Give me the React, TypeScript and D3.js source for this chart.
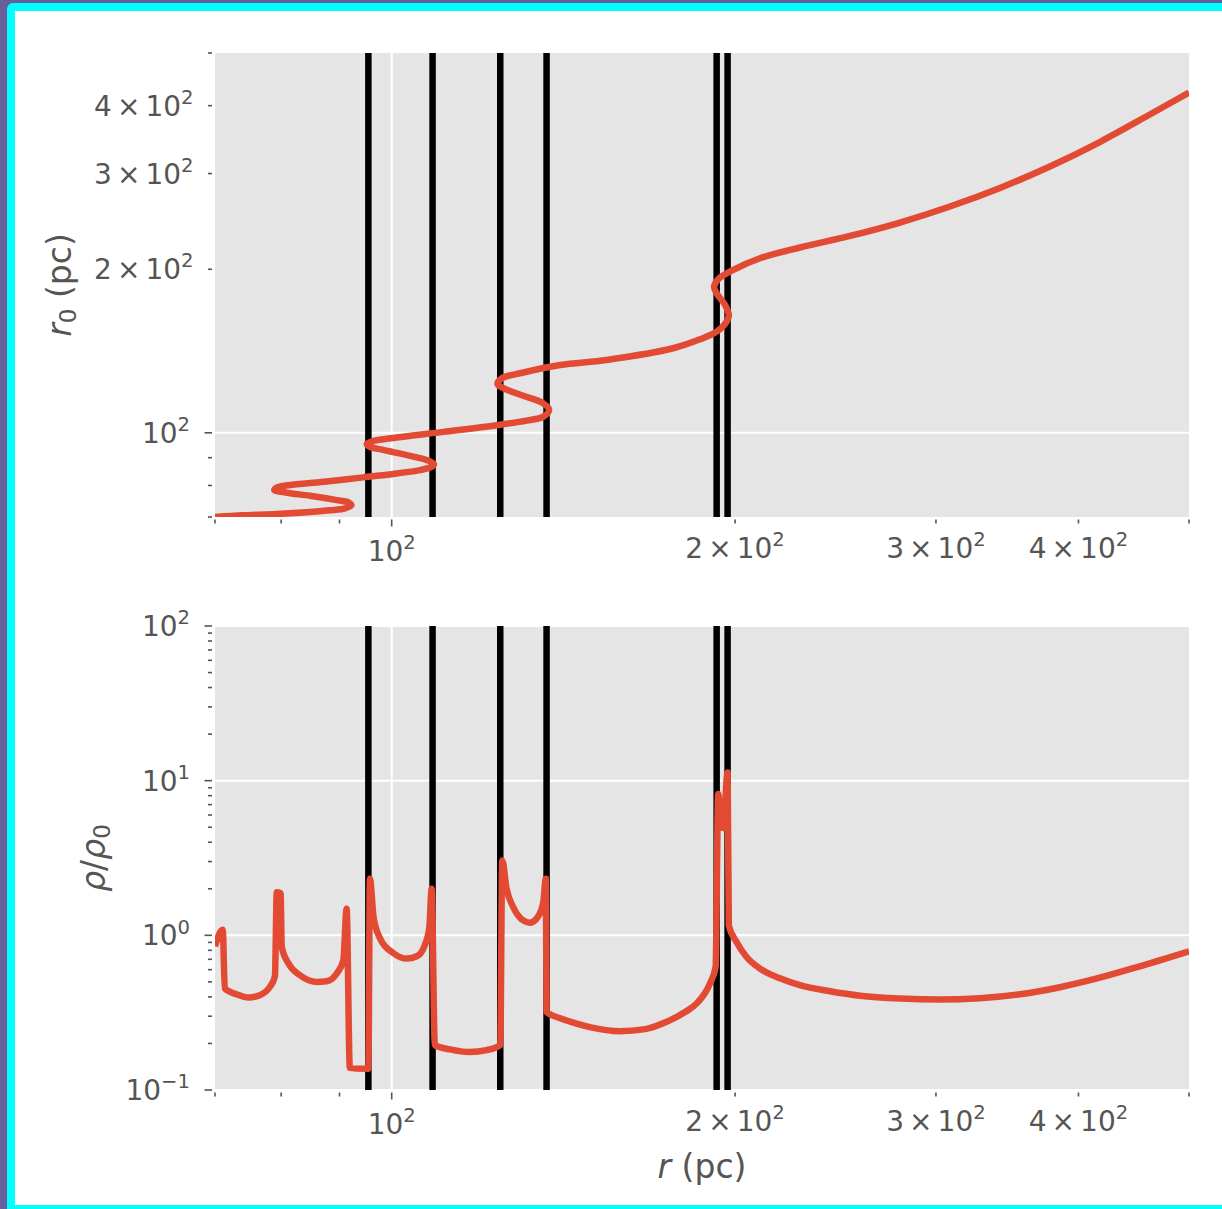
import React from "react";
import * as d3 from "d3";

// ---------- data ----------
// upper panel: Lagrangian radius r0 against Eulerian radius r (multi-valued curve)
const topR = [70, 74.1, 79.3, 84.8, 88.3, 91.0, 92.2, 91.6, 89.5, 84.8, 80.9, 78.9, 79.5, 82.5, 87.7, 94.4, 101.0, 105.9, 108.4, 108.9, 107.7, 103.8, 98.3, 95.6, 95.1, 96.4, 101.0, 111.0, 123.6, 131.3, 135.8, 137.4, 135.8, 130.4, 125.3, 123.8, 124.9, 129.6, 140.5, 154.3, 176.5, 186.3, 192.7, 196.6, 197.5, 196.0, 192.7, 191.7, 193.3, 199.3, 210.3, 228.0, 252.2, 279.0, 308.6, 341.4, 377.6, 417.6, 462.0, 500];
const topR0 = [70, 70.5, 70.9, 71.5, 72.0, 72.6, 73.6, 74.5, 75.2, 76.6, 77.6, 78.5, 79.5, 80.4, 81.4, 82.8, 84.2, 85.4, 86.6, 87.6, 88.9, 90.7, 93.0, 94.3, 95.4, 96.6, 98.0, 100.4, 103.3, 105.3, 107.1, 110.2, 113.3, 117.0, 120.8, 123.0, 126.0, 128.7, 133.3, 136.2, 143.1, 148.6, 153.5, 160.1, 164.7, 171.9, 180.6, 185.7, 191.7, 199.4, 209.5, 219.3, 230.3, 243.8, 260.9, 282.3, 309.1, 342.9, 385.3, 422.9];

// lower panel: density contrast against r
const botR = [70, 71.1, 71.4, 73.1, 74.9, 76.6, 78.2, 79.0, 79.3, 79.9, 80.1, 81.2, 83.1, 85.9, 87.7, 89.5, 90.7, 91.3, 91.9, 94.7, 95.4, 95.7, 96.4, 97.7, 100.3, 103.1, 105.2, 106.9, 107.9, 108.4, 109.1, 112.5, 117.1, 121.1, 124.5, 125.0, 126.1, 127.8, 130.4, 132.2, 134.4, 135.8, 136.5, 136.7, 140.5, 144.3, 149.2, 158.5, 166.8, 174.2, 180.8, 185.1, 190.1, 192.3, 193.3, 194.7, 195.3, 197.0, 197.5, 200.6, 204.7, 210.3, 219.0, 228.0, 242.3, 257.4, 279.0, 302.4, 327.9, 355.5, 385.4, 417.6, 452.7, 500];
const botRho = [0.849, 1.088, 0.453, 0.416, 0.396, 0.410, 0.464, 0.544, 1.902, 1.875, 0.840, 0.657, 0.552, 0.500, 0.505, 0.566, 0.690, 1.487, 0.139, 0.137, 0.137, 2.321, 1.313, 0.952, 0.769, 0.707, 0.732, 0.862, 1.131, 2.001, 0.195, 0.183, 0.176, 0.181, 0.195, 3.047, 2.001, 1.523, 1.250, 1.208, 1.326, 1.640, 2.321, 0.320, 0.291, 0.273, 0.255, 0.240, 0.2475, 0.276, 0.319, 0.363, 0.488, 0.625, 8.21, 5.00, 4.95, 11.31, 1.160, 0.905, 0.724, 0.610, 0.528, 0.476, 0.435, 0.407, 0.390, 0.384, 0.392, 0.416, 0.462, 0.532, 0.631, 0.789];

// caustic positions (vertical black lines)
const causticR = [95.4, 108.6, 124.5, 136.7, 192.7, 197.0];

// axes
const xDomain = [70, 500];
const yTopDomain = [70, 500];
const yBotDomain = [0.1, 100];
const xMajor = [100];
const xMinor = [70, 80, 90, 200, 300, 400, 500];
const xLabels = [
  { v: 100, m: "", e: "2", major: true },
  { v: 200, m: "2", e: "2", major: false },
  { v: 300, m: "3", e: "2", major: false },
  { v: 400, m: "4", e: "2", major: false },
];
const yTopMajor = [100];
const yTopMinor = [70, 80, 90, 200, 300, 400, 500];
const yTopLabels = [
  { v: 100, m: "", e: "2", major: true },
  { v: 200, m: "2", e: "2", major: false },
  { v: 300, m: "3", e: "2", major: false },
  { v: 400, m: "4", e: "2", major: false },
];
const yBotMajor = [0.1, 1, 10, 100];
const yBotLabels = [
  { v: 0.1, m: "", e: "\u22121", major: true },
  { v: 1, m: "", e: "0", major: true },
  { v: 10, m: "", e: "1", major: true },
  { v: 100, m: "", e: "2", major: true },
];
const minorMult = [2, 3, 4, 5, 6, 7, 8, 9];

// ---------- style ----------
const FONT = "DejaVu Sans";
const TXT = "#555555";
const BG = "#E5E5E5";
const RED = "#E24A33";
const TICK_FS = 28;
const LABEL_FS = 33;

const L = 215, R = 1189;
const TOP = { y0: 53, y1: 517 };
const BOT = { y0: 626, y1: 1090 };

function Sci({ x, y, anchor, m, e }: any) {
  const fs = TICK_FS;
  return (
    <text x={x} y={y} textAnchor={anchor} fontSize={fs} fill={TXT} fontFamily={FONT}>
      {m ? <tspan>{m}</tspan> : null}
      {m ? <tspan dx={fs * 0.18}>×</tspan> : null}
      <tspan dx={m ? fs * 0.18 : 0}>10</tspan>
      <tspan dy={-fs * 0.42} fontSize={fs * 0.7}>{e}</tspan>
    </text>
  );
}

export default function App() {
  const x = d3.scaleLog().domain(xDomain).range([L, R]);
  const yT = d3.scaleLog().domain(yTopDomain).range([TOP.y1, TOP.y0]);
  const yB = d3.scaleLog().domain(yBotDomain).range([BOT.y1, BOT.y0]);

  const topPts = topR.map((r, i) => [x(r), yT(topR0[i])] as [number, number]);
  const botPts = botR.map((r, i) => [x(r), yB(botRho[i])] as [number, number]);
  const topPath = d3.line().curve(d3.curveCatmullRom.alpha(0.5))(topPts) || "";
  const botPath = d3.line().curve(d3.curveMonotoneX)(botPts) || "";

  const yBotMinor: number[] = [];
  [0.1, 1, 10].forEach((d) => minorMult.forEach((k) => yBotMinor.push(k * d)));

  const axes = (
    A: { y0: number; y1: number },
    yScale: any,
    yMaj: number[],
    yMin: number[],
    yLabs: any[],
    clipId: string,
    path: string
  ) => (
    <g>
      <defs>
        <clipPath id={clipId}>
          <rect x={L} y={A.y0} width={R - L} height={A.y1 - A.y0} />
        </clipPath>
      </defs>
      <rect x={L} y={A.y0} width={R - L} height={A.y1 - A.y0} fill={BG} />
      {xMajor.map((v) => (
        <line key={"gx" + v} x1={x(v)} x2={x(v)} y1={A.y0} y2={A.y1} stroke="#fff" strokeWidth={2} />
      ))}
      {yMaj.map((v) => (
        <line key={"gy" + v} x1={L} x2={R} y1={yScale(v)} y2={yScale(v)} stroke="#fff" strokeWidth={2} />
      ))}
      <g clipPath={`url(#${clipId})`}>
        {causticR.map((c) => (
          <line key={"c" + c} x1={x(c)} x2={x(c)} y1={A.y0} y2={A.y1} stroke="#000" strokeWidth={6.5} />
        ))}
        <path d={path} fill="none" stroke={RED} strokeWidth={6.5} strokeLinejoin="round" strokeLinecap="butt" />
      </g>
      {xMajor.map((v) => (
        <line key={"xt" + v} x1={x(v)} x2={x(v)} y1={A.y1 + 2.5} y2={A.y1 + 9.5} stroke={TXT} strokeWidth={1.6} />
      ))}
      {xMinor.map((v) => (
        <line key={"xm" + v} x1={x(v)} x2={x(v)} y1={A.y1 + 2.5} y2={A.y1 + 6.5} stroke={TXT} strokeWidth={1.6} />
      ))}
      {xLabels.map((l) => (
        <Sci key={"xl" + l.v} x={x(l.v)} y={A.y1 + (l.major ? 44 : 41)} anchor="middle" m={l.m} e={l.e} />
      ))}
      {yMaj.map((v) => (
        <line key={"yt" + v} x1={L - 3} x2={L - 10.5} y1={yScale(v)} y2={yScale(v)} stroke={TXT} strokeWidth={1.6} />
      ))}
      {yMin.map((v) => (
        <line key={"ym" + v} x1={L - 3} x2={L - 7} y1={yScale(v)} y2={yScale(v)} stroke={TXT} strokeWidth={1.6} />
      ))}
      {yLabs.map((l: any) => (
        <Sci key={"yl" + l.v} x={l.major ? 190 : 193.5} y={yScale(l.v) + 10} anchor="end" m={l.m} e={l.e} />
      ))}
    </g>
  );

  return (
    <svg
      width={1222}
      height={1209}
      style={{ position: "absolute", left: 0, top: 0, display: "block" }}
      fontFamily={FONT}
    >
      <rect x={0} y={0} width={1222} height={1209} fill="#665F9B" />
      <rect x={7} y={3} width={1240} height={1230} rx={6} fill="#00FFFF" />
      <rect x={15} y={11} width={1230} height={1194} fill="#FFFFFF" />

      {axes(TOP, yT, yTopMajor, yTopMinor, yTopLabels, "clipTop", topPath)}
      {axes(BOT, yB, yBotMajor, yBotMinor, yBotLabels, "clipBot", botPath)}

      <text x={(L + R) / 2} y={1178} textAnchor="middle" fontSize={LABEL_FS} fill={TXT}>
        <tspan fontStyle="italic">r</tspan>
        <tspan>{" (pc)"}</tspan>
      </text>
      <text transform={`translate(71,${(TOP.y0 + TOP.y1) / 2}) rotate(-90)`} textAnchor="middle" fontSize={LABEL_FS} fill={TXT}>
        <tspan fontStyle="italic">r</tspan>
        <tspan fontSize={LABEL_FS * 0.7} dy={5}>0</tspan>
        <tspan dy={-5}>{" (pc)"}</tspan>
      </text>
      <text transform={`translate(105,${(BOT.y0 + BOT.y1) / 2}) rotate(-90)`} textAnchor="middle" fontSize={LABEL_FS} fill={TXT}>
        <tspan fontStyle="italic">ρ</tspan>
        <tspan>/</tspan>
        <tspan fontStyle="italic">ρ</tspan>
        <tspan fontSize={LABEL_FS * 0.7} dy={5}>0</tspan>
      </text>
    </svg>
  );
}
